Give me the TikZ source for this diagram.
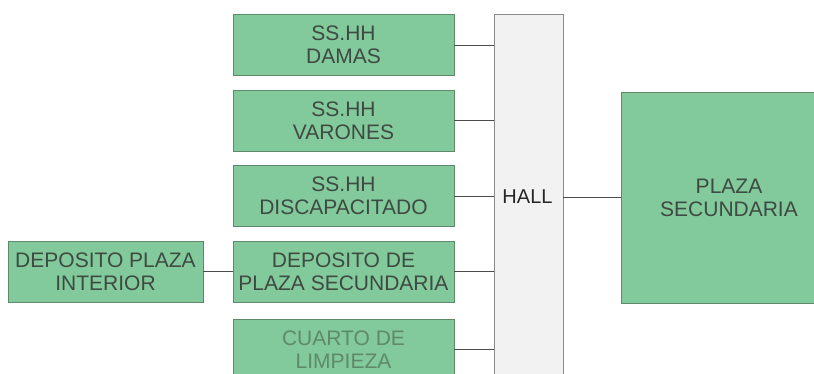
\documentclass[tikz,border=0pt]{standalone}
\usepackage{fontspec}
\setmainfont{Liberation Sans}
\usepackage{tikz}
\definecolor{boxgreen}{HTML}{82C99B}
\definecolor{boxedge}{HTML}{5E8A6B}
\definecolor{boxtext}{HTML}{3E4A42}
\definecolor{halledge}{HTML}{8A8A8A}
\tikzset{
  room/.style={draw=boxedge, line width=0.9pt, fill=boxgreen, text=boxtext, align=center,
    inner sep=0pt, font=\fontsize{21}{23}\selectfont},
  link/.style={draw=black!70, line width=0.8pt}
}

\begin{document}
\begin{tikzpicture}[x=1pt, y=-1pt]
        \useasboundingbox (0,0) rectangle (814,374);
        \clip (0,0) rectangle (814,374);
        % Nodes for the rooms
        \node[room, minimum width=221pt, minimum height=61pt] (damas) at (343.5,45) {SS.HH\\DAMAS};
        \node[room, minimum width=221pt, minimum height=61pt] (varones) at (343.5,120.5) {SS.HH\\VARONES};
        \node[room, minimum width=221pt, minimum height=61pt] (discap) at (343.5,196) {SS.HH\\DISCAPACITADO};
        \node[room, minimum width=221pt, minimum height=61pt] (depsec) at (343.5,271.5) {DEPOSITO DE\\PLAZA SECUNDARIA};
        \node[room, minimum width=221pt, minimum height=61pt, text=boxedge] (limpieza) at (343.5,349.5) {CUARTO DE\\LIMPIEZA};
        \node[room, minimum width=195pt, minimum height=61pt] (depint) at (105.5,271.5) {DEPOSITO PLAZA\\INTERIOR};
        \node[draw=halledge, line width=0.9pt, fill=black!5, minimum width=69pt, minimum height=380pt] (hall) at (528.5,204) {};
        \node[font=\fontsize{20}{22}\selectfont, text=black!85] (halllbl) at (527.5,197) {HALL};
        \node[room, minimum width=212pt, minimum height=211pt] (plaza) at (727,197.5) {};
        \node[text=boxtext, align=center, font=\fontsize{21}{23}\selectfont] (plazalbl) at (729,197.5) {PLAZA\\SECUNDARIA};

        % Connections to the hall
        \foreach \r in {damas,varones,discap,depsec,limpieza}
          \draw[link] (\r.east) -- (\r.east -| hall.west);
        \draw[link] (hall.east |- plaza.west) -- (plaza.west);
        \draw[link] (depint.east) -- (depsec.west);
    \end{tikzpicture}
\end{document}
